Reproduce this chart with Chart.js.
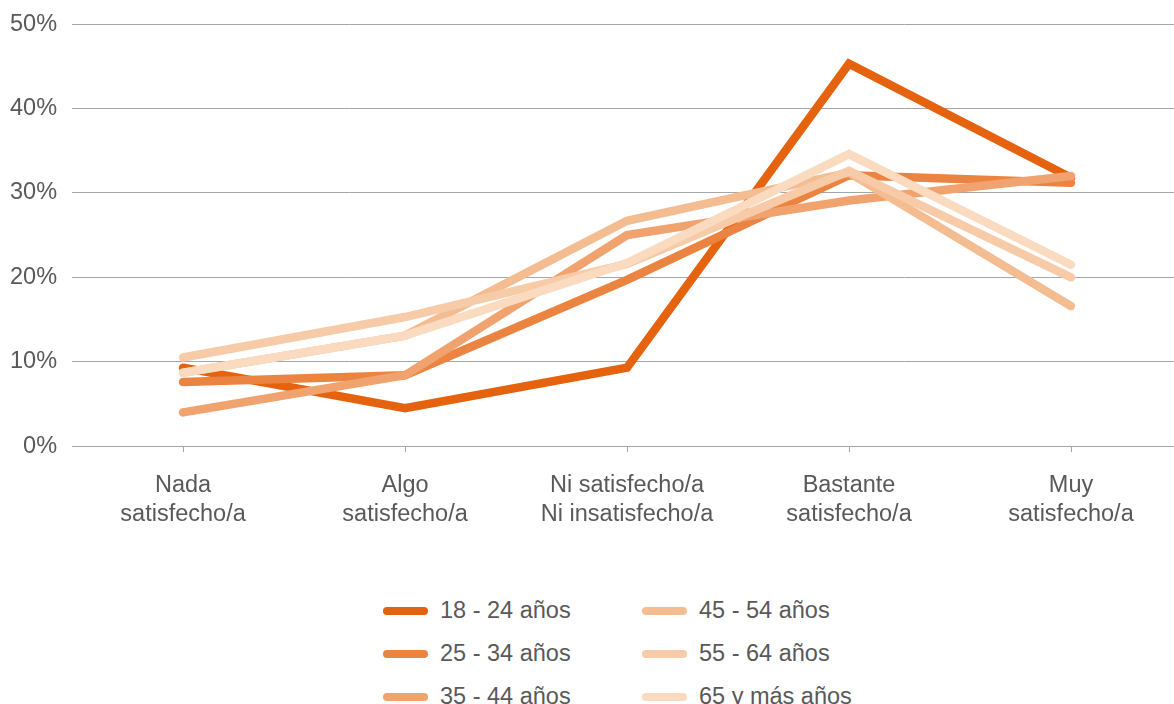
<!DOCTYPE html>
<html>
<head>
<meta charset="utf-8">
<script src="https://cdn.jsdelivr.net/npm/chart.js@4.4.1/dist/chart.umd.min.js"></script>
<style>
  html, body { margin: 0; padding: 0; background: #fff; overflow: hidden; }
  #wrap { position: relative; width: 1174px; height: 704px; overflow: hidden; }
  #chartBox { position: absolute; left: -15px; top: -5px; width: 1197px; height: 568px; }
  #legend {
    position: absolute; left: 383px; top: 589px;
    display: grid; grid-template-columns: 259px auto; grid-auto-flow: column;
    grid-template-rows: 43px 43px 43px;
    font-family: "Liberation Sans", Arial, sans-serif; font-size: 23.5px; color: #595959;
  }
  #legend .item { display: flex; align-items: center; height: 43px; }
  #legend .swatch { width: 45px; height: 8px; border-radius: 4px; margin-right: 12px; }
</style>
</head>
<body>
<div id="wrap">
  <div id="chartBox"><canvas id="satisfaccionChart"></canvas></div>
  <div id="legend"></div>
</div>
<script>
// categorias y series (porcentajes)
const categorias = [
  ['Nada', 'satisfecho/a'],
  ['Algo', 'satisfecho/a'],
  ['Ni satisfecho/a', 'Ni insatisfecho/a'],
  ['Bastante', 'satisfecho/a'],
  ['Muy', 'satisfecho/a']
];
const grupos = ['18 - 24 años', '25 - 34 años', '35 - 44 años', '45 - 54 años', '55 - 64 años', '65 y más años'];
const edad18_24 = [9.3, 4.5, 9.3, 45.3, 31.8];
const edad25_34 = [7.6, 8.4, 19.7, 32.1, 31.2];
const edad35_44 = [4.0, 8.4, 25.0, 29.1, 32.0];
const edad45_54 = [8.7, 13.1, 26.7, 32.4, 16.6];
const edad55_64 = [10.5, 15.3, 21.6, 32.6, 20.0];
const edad65_mas = [8.7, 13.1, 21.7, 34.6, 21.5];
const yTicks = [0, 10, 20, 30, 40, 50];

const colores = ['#E5620F', '#EB8441', '#F0A36E', '#F4BC91', '#F7CBA7', '#FADBC0'];
const series = [edad18_24, edad25_34, edad35_44, edad45_54, edad55_64, edad65_mas];
const fuente = '"Liberation Sans", Arial, sans-serif';

const datasets = series.map((vals, i) => ({
  label: grupos[i],
  data: vals,
  borderColor: colores[i],
  backgroundColor: colores[i],
  borderWidth: 8.5,
  borderCapStyle: 'round',
  borderJoinStyle: 'miter',
  pointRadius: 0,
  tension: 0,
  order: series.length - i
}));

const ctx = document.getElementById('satisfaccionChart').getContext('2d');
new Chart(ctx, {
  type: 'line',
  data: { labels: categorias, datasets: datasets },
  options: {
    responsive: true,
    maintainAspectRatio: false,
    animation: false,
    layout: { padding: { left: 10, right: 0, top: 2, bottom: 15 } },
    plugins: { legend: { display: false }, tooltip: { enabled: false } },
    scales: {
      x: {
        offset: true,
        grid: { offset: false, drawOnChartArea: false, drawTicks: true, tickLength: 6, color: '#A6A6A6' },
        border: { display: true, color: '#A6A6A6' },
        ticks: {
          padding: 19,
          color: '#595959',
          font: { family: fuente, size: 23.5, lineHeight: 1.23 },
          maxRotation: 0
        }
      },
      y: {
        min: 0,
        max: 50,
        afterBuildTicks: (axis) => { axis.ticks = yTicks.map(v => ({ value: v })); },
        grid: { color: '#A6A6A6', drawTicks: false },
        border: { display: false },
        ticks: {
          padding: 15,
          color: '#595959',
          font: { family: fuente, size: 23.5 },
          callback: (v) => v + '%'
        }
      }
    }
  }
});

// leyenda en dos columnas
const legend = document.getElementById('legend');
grupos.forEach((g, i) => {
  const item = document.createElement('div');
  item.className = 'item';
  item.innerHTML = '<span class="swatch" style="background:' + colores[i] + '"></span><span>' + g + '</span>';
  legend.appendChild(item);
});
</script>
</body>
</html>
